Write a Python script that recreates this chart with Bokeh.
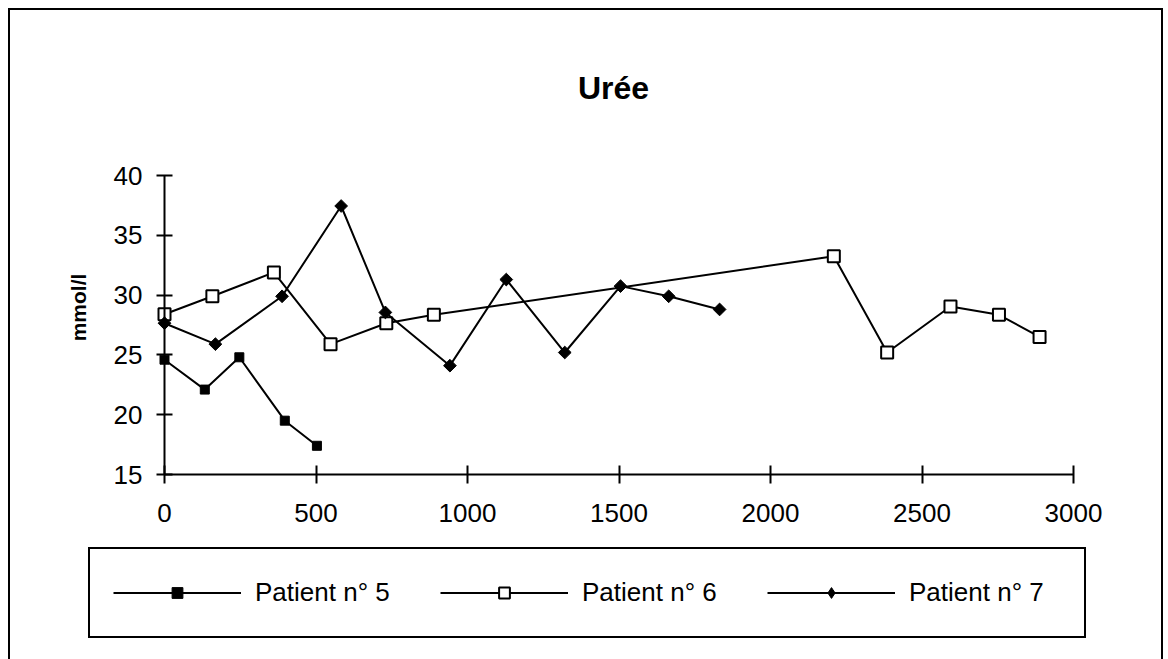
import math
from bokeh.plotting import figure
from bokeh.models import Range1d, Legend, LegendItem, Label, FixedTicker
from bokeh.embed import file_html
from bokeh.resources import INLINE

# ---- data ----
days_p5 = [0, 133, 247, 397, 503]
urea_p5 = [24.6, 22.1, 24.8, 19.5, 17.4]

days_p6 = [0, 158, 361, 548, 732, 889, 2209, 2385, 2594, 2754, 2888]
urea_p6 = [28.4, 29.9, 31.9, 25.9, 27.65, 28.35, 33.25, 25.2, 29.05, 28.35, 26.5]

days_p7 = [0, 168, 388, 583, 729, 942, 1128, 1321, 1505, 1664, 1832]
urea_p7 = [27.65, 25.9, 29.9, 37.45, 28.55, 24.1, 31.3, 25.2, 30.75, 29.9, 28.8]

labels = ["Patient n° 5", "Patient n° 6", "Patient n° 7"]
x_ticks = [0, 500, 1000, 1500, 2000, 2500, 3000]
y_ticks = [15, 20, 25, 30, 35, 40]
x_min, x_max = 0, 3000
y_min, y_max = 15, 40
title_text = "Urée"
y_label = "mmol/l"

FONT = "Liberation Sans"

# ---- layout (page pixels) ----
CX0, CY0 = 10, 10            # canvas origin on the page (inside the 2px border)
FIG_W, FIG_H = 1155, 651     # declared figure size (= canvas size)
AX_L, AX_R = 164, 1073       # page x of x = 0 / 3000
AX_T, AX_B = 175, 474        # page y of y = 40 / 15
sx = (AX_R - AX_L) / (x_max - x_min)
sy = (AX_B - AX_T) / (y_max - y_min)

def px_to_x(px):
    return x_min + (px - AX_L) / sx

def py_to_y(py):
    return y_min + (AX_B - py) / sy

p = figure(
    width=FIG_W, height=FIG_H,
    x_range=Range1d(px_to_x(CX0), px_to_x(CX0 + FIG_W)),
    y_range=Range1d(py_to_y(CY0 + FIG_H), py_to_y(CY0)),
    output_backend="svg", toolbar_location=None,
    min_border_left=0, min_border_right=0,
    min_border_top=0, min_border_bottom=0,
)
p.styles = {"margin": "8px 0 0 8px", "border": "2px solid black",
            "border-bottom": "none"}
p.outline_line_color = None
p.xgrid.visible = False
p.ygrid.visible = False
p.background_fill_color = "white"
p.border_fill_color = "white"

for ax in (p.xaxis[0], p.yaxis[0]):
    ax.axis_line_width = 2
    ax.axis_line_color = "black"
    ax.major_tick_line_width = 2
    ax.major_tick_line_color = "black"
    ax.minor_tick_line_color = None
    ax.major_label_text_font = FONT
    ax.major_label_text_font_size = "26px"
    ax.major_label_text_color = "black"

p.xaxis[0].ticker = FixedTicker(ticks=x_ticks)
p.xaxis[0].fixed_location = y_min
p.xaxis[0].bounds = (x_min, x_max)
p.xaxis[0].major_tick_in = 9
p.xaxis[0].major_tick_out = 9
p.xaxis[0].major_label_standoff = 20

p.yaxis[0].ticker = FixedTicker(ticks=y_ticks)
p.yaxis[0].fixed_location = x_min
p.yaxis[0].bounds = (y_min, y_max)
p.yaxis[0].major_tick_in = 8
p.yaxis[0].major_tick_out = 8
p.yaxis[0].major_label_standoff = 14

# series
l5 = p.line(days_p5, urea_p5, line_color="black", line_width=2)
s5 = p.scatter(days_p5, urea_p5, marker="square", size=9,
               fill_color="black", line_color="black")

l6 = p.line(days_p6, urea_p6, line_color="black", line_width=2)
s6 = p.scatter(days_p6, urea_p6, marker="square", size=12,
               fill_color="white", line_color="black", line_width=2)

l7 = p.line(days_p7, urea_p7, line_color="black", line_width=2)
s7 = p.scatter(days_p7, urea_p7, marker="square", size=9, angle=math.pi / 4,
               fill_color="black", line_color="black")
# legend-only diamond (the legend does not rotate markers)
s7_key = p.scatter(days_p7, urea_p7, marker="diamond", size=12,
                   fill_color="black", line_color="black", visible=False)

# title
p.add_layout(Label(x=px_to_x(613), y=py_to_y(87), text=title_text,
                   text_align="center", text_baseline="middle",
                   text_font=FONT, text_font_size="32px",
                   text_font_style="bold", text_color="black"))

# y axis title
p.add_layout(Label(x=px_to_x(78), y=py_to_y(307), text=y_label,
                   angle=math.pi / 2,
                   text_align="center", text_baseline="middle",
                   text_font=FONT, text_font_size="21px",
                   text_font_style="bold", text_color="black"))

legend = Legend(
    items=[LegendItem(label=labels[0], renderers=[l5, s5]),
           LegendItem(label=labels[1], renderers=[l6, s6]),
           LegendItem(label=labels[2], renderers=[l7, s7_key])],
    orientation="horizontal",
    location=(88 - CX0, (CY0 + FIG_H) - 638),
    glyph_width=128, glyph_height=27,
    label_standoff=14, label_width=152, label_height=41,
    spacing=33, padding=23, margin=0,
    border_line_color="black", border_line_width=2, border_line_alpha=1,
    background_fill_color="white", background_fill_alpha=1,
    label_text_font=FONT, label_text_font_size="26px",
    label_text_color="black",
)
p.add_layout(legend, "center")

open("out.html", "w").write(file_html(p, INLINE))
